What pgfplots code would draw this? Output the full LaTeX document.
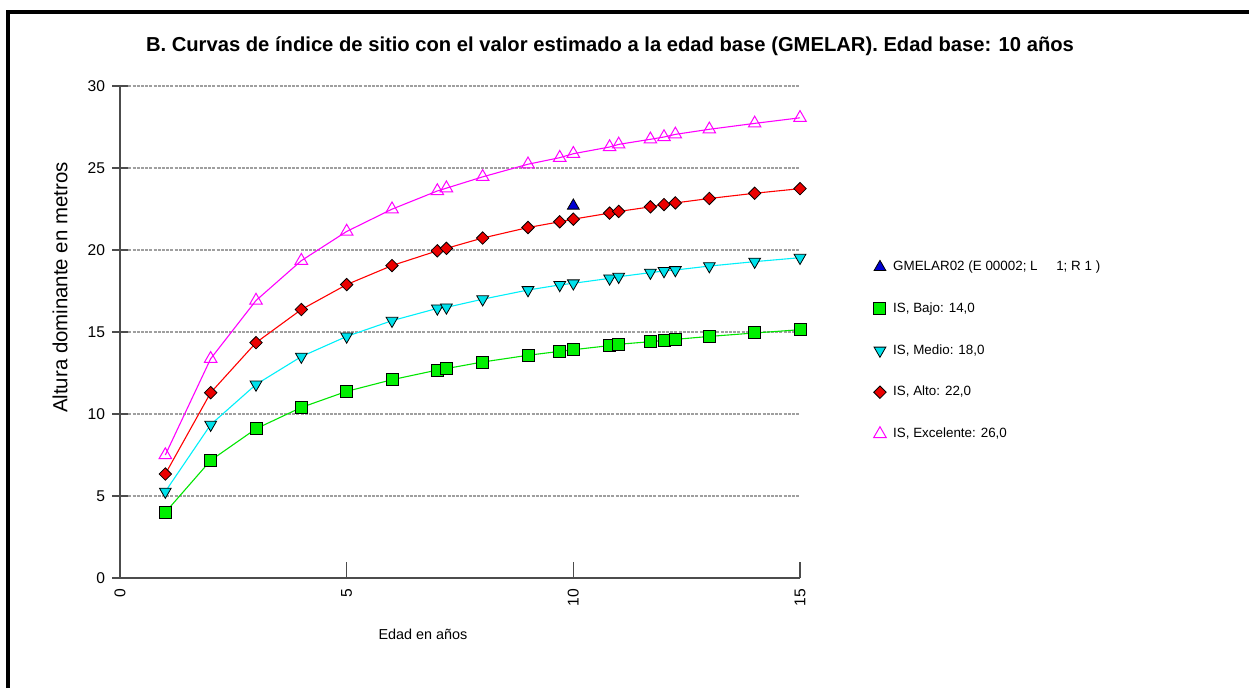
\documentclass[border=0pt]{standalone}
\usepackage{pgfplots}
\pgfplotsset{compat=1.18}
\usepackage{fontspec}
\setmainfont{Liberation Sans}
\definecolor{gFill}{RGB}{0,240,0}
\definecolor{gLine}{RGB}{0,230,0}
\definecolor{cFill}{RGB}{0,225,235}
\definecolor{cLine}{RGB}{0,240,250}
\definecolor{rFill}{RGB}{235,0,0}
\definecolor{rLine}{RGB}{255,0,0}
\definecolor{mLine}{RGB}{255,0,255}
\definecolor{bFill}{RGB}{0,0,210}
\begin{document}
\begin{tikzpicture}
\path[fill=white] (0,0) rectangle (628.5pt,344pt);
\draw[line width=2pt] (4pt,0pt) -- (4pt,338.2pt) -- (624.5pt,338.2pt);
\node[font=\bfseries\fontsize{10.1}{12}\selectfont] at (305pt,320.8pt) {B. Curvas de índice de sitio con el valor estimado a la edad base (GMELAR). Edad base: 10 años};
\node[rotate=90,font=\fontsize{10.2}{12}\selectfont] at (30pt,200.2pt) {Altura dominante en metros};
\node[font=\fontsize{7.2}{9}\selectfont] at (211.5pt,27pt) {Edad en años};
\begin{axis}[
  at={(60pt,55pt)}, anchor=south west,
  scale only axis, width=340pt, height=246pt,
  xmin=0, xmax=15, ymin=0, ymax=30,
  xtick={0,5,10,15}, ytick={0,5,10,15,20,25,30},
  axis lines*=left,
  axis line style={draw=black!70, line width=0.6pt},
  tick style={draw=black!70, line width=0.6pt},
  major tick length=8pt,
  xtick align=inside, ytick align=center,
  ymajorgrids,
  major grid style={draw=gray!75, dash pattern=on 1.5pt off 0.6pt, line width=0.6pt},
  tick label style={font=\fontsize{7.8}{9}\selectfont},
  /pgf/number format/assume math mode=true,
  xticklabel style={rotate=90, anchor=east, yshift=0pt, xshift=-2pt},
  clip=false,
  legend style={at={(1.099,0.656)}, anchor=north west, draw=none, fill=none,
    font=\fontsize{6.7}{8}\selectfont, row sep=13.35pt,
    nodes={inner sep=0.5pt, text height=5pt, text depth=1.5pt},
    cells={anchor=west},
    /tikz/every odd column/.append style={column sep=3pt}},
  legend image code/.code={\draw[only marks] plot coordinates {(0.12cm,0cm)};},
]
\addplot[only marks, mark=triangle*, mark size=3.4pt, mark options={fill=bFill, draw=black, line width=0.4pt}]
  coordinates {(10,22.7)};
\addlegendentry{GMELAR02 (E 00002; L\ \ \ \ \ 1; R 1 )}
\addplot[gLine, line width=0.55pt, mark=square*, mark size=3pt, mark options={fill=gFill, draw=black, line width=0.5pt}]
  coordinates {(1,4.0)(2,7.17)(3,9.1)(4,10.4)(5,11.38)(6,12.09)(7,12.68)(7.2,12.77)(8,13.17)(9,13.58)(9.7,13.82)(10,13.92)(10.8,14.17)(11,14.25)(11.7,14.41)(12,14.49)(12.25,14.55)(13,14.73)(14,14.94)(15,15.14)};
\addlegendentry{IS, Bajo: 14,0}
\addplot[cLine, line width=0.55pt, mark=triangle*, mark size=3.4pt, mark options={rotate=180, fill=cFill, draw=black, line width=0.4pt}]
  coordinates {(1,5.27)(2,9.35)(3,11.8)(4,13.5)(5,14.73)(6,15.69)(7,16.44)(7.2,16.5)(8,17.0)(9,17.56)(9.7,17.87)(10,17.97)(10.8,18.27)(11,18.37)(11.7,18.62)(12,18.72)(12.25,18.78)(13,19.02)(14,19.29)(15,19.53)};
\addlegendentry{IS, Medio: 18,0}
\addplot[rLine, line width=0.55pt, mark=square*, mark size=2.2pt, mark options={rotate=45, fill=rFill, draw=black, line width=0.4pt}]
  coordinates {(1,6.34)(2,11.3)(3,14.35)(4,16.37)(5,17.89)(6,19.05)(7,19.95)(7.2,20.1)(8,20.73)(9,21.37)(9.7,21.72)(10,21.88)(10.8,22.25)(11,22.35)(11.7,22.63)(12,22.77)(12.25,22.87)(13,23.14)(14,23.46)(15,23.74)};
\addlegendentry{IS, Alto: 22,0}
\addplot[mLine, line width=0.55pt, mark=triangle, mark size=3.6pt, mark options={draw=mLine, fill=white, line width=0.5pt}]
  coordinates {(1,7.5)(2,13.37)(3,16.92)(4,19.35)(5,21.13)(6,22.49)(7,23.6)(7.2,23.77)(8,24.46)(9,25.23)(9.7,25.63)(10,25.87)(10.8,26.28)(11,26.44)(11.7,26.75)(12,26.89)(12.25,27.05)(13,27.36)(14,27.72)(15,28.06)};
\addlegendentry{IS, Excelente: 26,0}
\end{axis}
\end{tikzpicture}
\end{document}
